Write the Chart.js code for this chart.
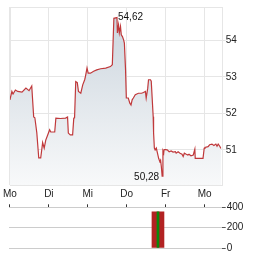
<!DOCTYPE html>
<html>
<head>
<meta charset="utf-8">
<script src="https://cdn.jsdelivr.net/npm/chart.js@4/dist/chart.umd.min.js"></script>
<style>
  html, body { margin: 0; padding: 0; background: #fff; }
  #wrap { position: relative; width: 264px; height: 255px; }
  canvas { position: absolute; left: 0; }
  #price { top: 0; }
  #volume { top: 200px; }
</style>
</head>
<body>
<div id="wrap">
  <canvas id="price" width="264" height="200"></canvas>
  <canvas id="volume" width="264" height="55"></canvas>
</div>
<script>
// trading days on the x axis (0 = first Monday)
const dayLabels = ['Mo', 'Di', 'Mi', 'Do', 'Fr', 'Mo'];
const dayMax = 5.44;

// price series: time in trading days, price in EUR
const priceTime = [
  0, 0.05, 0.08, 0.14, 0.2, 0.31, 0.41, 0.49, 0.56, 0.61, 0.64, 0.69, 0.74, 0.79,
  0.84, 0.88, 0.92, 0.97, 1.02, 1.05, 1.15, 1.18, 1.3, 1.43, 1.48, 1.5, 1.55, 1.61,
  1.64, 1.66, 1.69, 1.73, 1.76, 1.82, 1.87, 1.92, 1.94, 1.98, 2.01, 2.07, 2.15, 2.23,
  2.33, 2.46, 2.58, 2.63, 2.67, 2.75, 2.76, 2.79, 2.81, 2.84, 2.86, 2.89, 2.92, 2.94,
  2.97, 2.99, 3.04, 3.08, 3.11, 3.14, 3.17, 3.22, 3.3, 3.38, 3.43, 3.48, 3.5, 3.54,
  3.56, 3.61, 3.63, 3.68, 3.69, 3.71, 3.73, 3.76, 3.79, 3.82, 3.85, 3.87, 3.89, 3.91,
  3.93, 3.95, 3.96, 3.99, 4.04, 4.09, 4.14, 4.19, 4.25, 4.27, 4.32, 4.37, 4.42, 4.45,
  4.48, 4.53, 4.57, 4.6, 4.65, 4.71, 4.75, 4.76, 4.88, 4.96, 4.99, 5.01, 5.09, 5.13,
  5.19, 5.24, 5.29, 5.32, 5.35, 5.39, 5.42
];
const priceValue = [
  52.37, 52.6, 52.53, 52.64, 52.6, 52.58, 52.69, 52.62, 52.75, 51.9, 51.88, 51.47, 50.78, 50.78,
  51.2, 51.05, 51.27, 51.41, 51.55, 51.49, 51.49, 51.87, 51.86, 51.87, 51.9, 51.46, 51.41, 51.41,
  51.87, 51.88, 52.87, 52.84, 52.6, 52.55, 52.78, 52.92, 53.01, 53.24, 53.1, 53.1, 53.15, 53.19,
  53.22, 53.24, 53.28, 53.33, 54.6, 54.62, 54.2, 54.42, 54.2, 54.38, 54.15, 54.1, 54.01, 53.92,
  53.19, 52.42, 52.42, 52.28, 52.23, 52.37, 52.42, 52.51, 52.55, 52.55, 52.57, 52.6, 52.42, 52.69,
  52.92, 52.92, 52.88, 51.91, 51.47, 51.05, 51.0, 51.05, 50.91, 50.77, 50.68, 50.72, 50.54, 50.28,
  50.97, 50.91, 51.01, 51.01, 51.0, 50.95, 50.97, 50.94, 50.95, 50.91, 50.95, 50.91, 50.88, 50.82,
  50.91, 50.88, 50.86, 50.88, 50.84, 50.86, 51.02, 50.77, 50.77, 50.77, 51.04, 51.07, 51.09, 51.14,
  51.16, 51.12, 51.16, 51.1, 51.16, 51.1, 51.04
];

// volume
const volumeTime = [3.81];
const volumeValue = [355];

const fontFamily = '"Liberation Sans", Arial, sans-serif';
const gridColor = '#e6e6e6';
const textColor = '#222';
const fmt = v => v.toFixed(2).replace('.', ',');

// frame around the price plot + min/max labels
const framePlugin = {
  id: 'frame',
  beforeDatasetsDraw(chart) {
    const {ctx, chartArea: a} = chart;
    ctx.save();
    ctx.strokeStyle = gridColor;
    ctx.lineWidth = 1;
    ctx.strokeRect(Math.round(a.left) + 0.5, Math.round(a.top) + 0.5,
      Math.round(a.right - a.left), Math.round(a.bottom - a.top));
    ctx.restore();
  },
  afterDatasetsDraw(chart) {
    const {ctx, scales} = chart;
    const hi = Math.max(...priceValue);
    const lo = Math.min(...priceValue);
    const iHi = priceValue.lastIndexOf(hi);
    const iLo = priceValue.indexOf(lo);
    ctx.save();
    ctx.font = '10px ' + fontFamily;
    ctx.fillStyle = '#111';
    ctx.textBaseline = 'middle';
    ctx.textAlign = 'left';
    ctx.fillText(fmt(hi), scales.x.getPixelForValue(priceTime[iHi]) + 1, scales.y.getPixelForValue(hi));
    ctx.textAlign = 'right';
    ctx.fillText(fmt(lo), scales.x.getPixelForValue(priceTime[iLo]) - 3, scales.y.getPixelForValue(lo) + 1);
    ctx.restore();
  }
};

const priceCtx = document.getElementById('price');
window.priceChart = new Chart(priceCtx, {
  type: 'line',
  data: {
    datasets: [{
      data: priceTime.map((t, i) => ({x: t, y: priceValue[i]})),
      borderColor: '#c0393b',
      borderWidth: 1.2,
      pointRadius: 0,
      tension: 0,
      fill: 'start',
      backgroundColor: (c) => {
        const a = c.chart.chartArea;
        if (!a) return '#e4e9ed';
        const g = c.chart.ctx.createLinearGradient(0, a.top, 0, a.bottom);
        g.addColorStop(0, '#c9d3dc');
        g.addColorStop(1, '#f8f9fa');
        return g;
      },
    }],
  },
  options: {
    responsive: false,
    animation: false,
    events: [],
    layout: {padding: {left: 9, top: 7, right: 0, bottom: 0}},
    plugins: {legend: {display: false}, tooltip: {enabled: false}},
    scales: {
      x: {
        type: 'linear',
        min: 0,
        max: dayMax,
        grid: {color: gridColor, drawTicks: false},
        border: {display: false},
        ticks: {
          stepSize: 1,
          includeBounds: false,
          autoSkip: false,
          maxRotation: 0,
          padding: 3,
          color: textColor,
          font: {family: fontFamily, size: 10},
          callback: v => dayLabels[v],
        },
        afterFit: s => { s.height = 15; },
      },
      y: {
        position: 'right',
        min: 50.04,
        max: 54.91,
        grid: {color: gridColor, tickLength: 4},
        border: {display: false},
        ticks: {
          stepSize: 1,
          includeBounds: false,
          padding: 0,
          color: textColor,
          font: {family: fontFamily, size: 10},
        },
        afterBuildTicks: s => { s.ticks = s.ticks.filter(t => Number.isInteger(t.value)); },
        afterFit: s => { s.width = 42.3; },
      },
    },
  },
  plugins: [framePlugin],
});

const volCtx = document.getElementById('volume');
window.volumeChart = new Chart(volCtx, {
  type: 'bar',
  data: {
    datasets: [
      {
        data: volumeTime.map((t, i) => ({x: t, y: volumeValue[i]})),
        backgroundColor: '#0b870b',
        barThickness: 2,
        grouped: false,
      },
      {
        data: volumeTime.map((t, i) => ({x: t, y: volumeValue[i]})),
        backgroundColor: '#b22222',
        barThickness: 12,
        grouped: false,
      },
    ],
  },
  options: {
    responsive: false,
    animation: false,
    events: [],
    layout: {padding: {left: 9, top: 4, right: 0, bottom: 0}},
    plugins: {legend: {display: false}, tooltip: {enabled: false}},
    scales: {
      x: {
        type: 'linear',
        position: 'top',
        offset: false,
        min: 0,
        max: dayMax,
        grid: {offset: false, drawOnChartArea: false, tickLength: 3, tickColor: '#333'},
        border: {display: false},
        ticks: {display: false, stepSize: 1, includeBounds: false},
        afterFit: s => { s.height = 3.3; },
      },
      y: {
        position: 'right',
        min: 0,
        max: 400,
        grid: {color: '#cccccc', tickLength: 4, tickColor: '#555'},
        border: {display: false},
        ticks: {
          stepSize: 200,
          padding: 1,
          color: textColor,
          font: {family: fontFamily, size: 10},
        },
        afterFit: s => { s.width = 42.3; },
      },
    },
  },
});
</script>
</body>
</html>
